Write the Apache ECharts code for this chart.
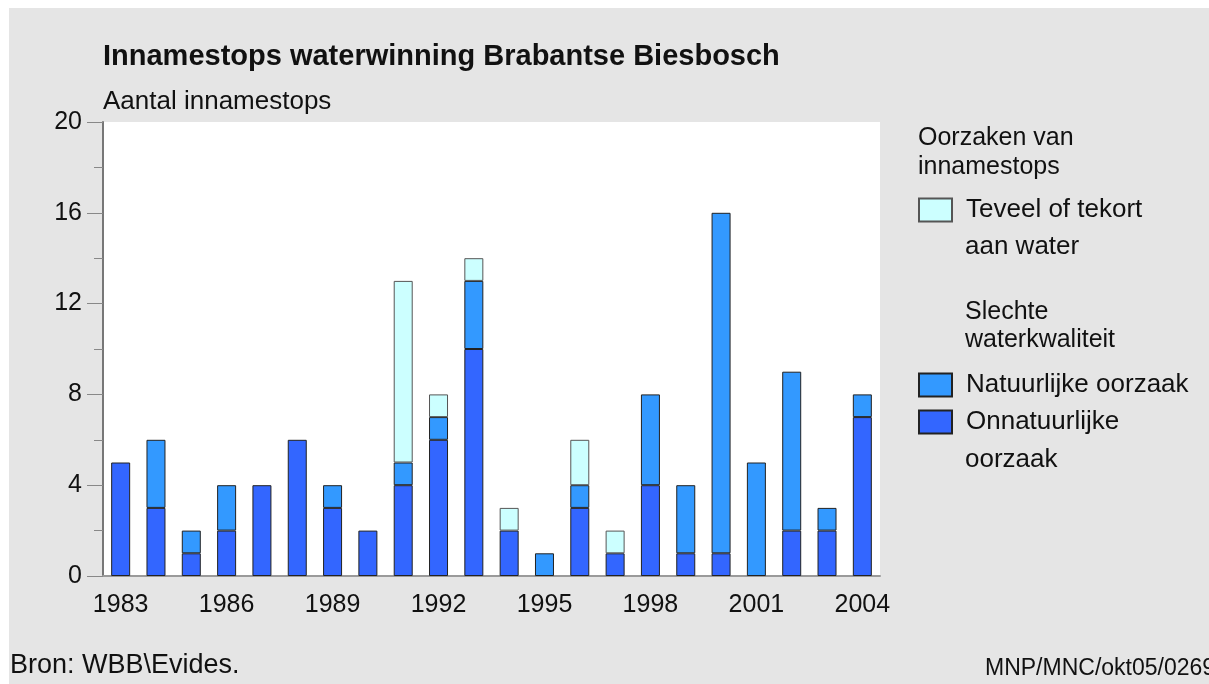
<!DOCTYPE html>
<html>
<head>
<meta charset="utf-8">
<script src="https://cdn.jsdelivr.net/npm/echarts@6/dist/echarts.min.js"></script>
<style>
html,body{margin:0;padding:0;background:#fff;width:1209px;height:684px;overflow:hidden;}
#c{position:absolute;left:9px;top:8px;width:1200px;height:676px;}
</style>
</head>
<body>
<div id="c"></div>
<script>
const years = ['1983','1984','1985','1986','1987','1988','1989','1990','1991','1992','1993','1994','1995','1996','1997','1998','1999','2000','2001','2002','2003','2004'];
const onnatuurlijk = [5,3,1,2,4,6,3,2,4,6,10,2,0,3,1,4,1,1,0,2,2,7];
const natuurlijk   = [0,3,1,2,0,0,1,0,1,1,3,0,1,1,0,4,3,15,5,7,1,1];
const teveelTekort = [0,0,0,0,0,0,0,0,8,1,1,1,0,2,1,0,0,0,0,0,0,0];
const yTicks = [0,4,8,12,16,20];

const FONT = '"Liberation Sans", Arial, sans-serif';
const nz = a => a.map(v => v === 0 ? null : v);

const chart = echarts.init(document.getElementById('c'), null, {renderer:'canvas'});
const barBase = {type:'bar', stack:'s', barWidth:19, animation:false};

const legendBase = {orient:'vertical', padding:0, itemWidth:33, itemHeight:23, selectedMode:false, icon:'rect',
  textStyle:{fontFamily:FONT, fontSize:26, color:'#111', lineHeight:23, padding:[0,0,0,9]}};

chart.setOption({
  backgroundColor:'#e5e5e5',
  animation:false,
  grid:{left:94, right:329, top:114, bottom:108, show:true, backgroundColor:'#fff', borderWidth:0},
  xAxis:{type:'category', data:years,
    axisLine:{lineStyle:{color:'#9a9a9a', width:2}},
    axisTick:{show:false},
    axisLabel:{interval:2, margin:17, fontFamily:FONT, fontSize:25, color:'#111'}},
  yAxis:{type:'value', min:yTicks[0], max:yTicks[yTicks.length-1], interval:4,
    axisLine:{show:true, lineStyle:{color:'#777', width:2}},
    axisTick:{show:true, length:16, lineStyle:{color:'#888'}},
    minorTick:{show:true, splitNumber:2, length:9, lineStyle:{color:'#888'}},
    splitLine:{show:false},
    axisLabel:{margin:21, fontFamily:FONT, fontSize:25, color:'#111'}},
  legend:[
    Object.assign({}, legendBase, {left:909, top:189, data:['Teveel of tekort']}),
    Object.assign({}, legendBase, {left:909, top:364, data:['Natuurlijke oorzaak']}),
    Object.assign({}, legendBase, {left:909, top:401, data:['Onnatuurlijke']})
  ],
  series:[
    Object.assign({}, barBase, {name:'Onnatuurlijke', data:nz(onnatuurlijk), itemStyle:{color:'#3366ff', borderColor:'#222', borderWidth:1}}),
    Object.assign({}, barBase, {name:'Natuurlijke oorzaak', data:nz(natuurlijk), itemStyle:{color:'#3399ff', borderColor:'#222', borderWidth:1}}),
    Object.assign({}, barBase, {name:'Teveel of tekort', data:nz(teveelTekort), itemStyle:{color:'#ccffff', borderColor:'#555', borderWidth:1}})
  ],
  graphic:[
    {type:'text', x:94, y:49, style:{text:'Innamestops waterwinning Brabantse Biesbosch', font:'bold 29px '+FONT, fill:'#111', verticalAlign:'middle'}},
    {type:'text', x:94, y:94, style:{text:'Aantal innamestops', font:'26px '+FONT, fill:'#111', verticalAlign:'middle'}},
    {type:'text', x:909, y:116, style:{text:'Oorzaken van\ninnamestops', font:'25px '+FONT, lineHeight:29, fill:'#111', verticalAlign:'top'}},
    {type:'text', x:956, y:239, style:{text:'aan water', font:'26px '+FONT, fill:'#111', verticalAlign:'middle'}},
    {type:'text', x:956, y:290, style:{text:'Slechte\nwaterkwaliteit', font:'25px '+FONT, lineHeight:28, fill:'#111', verticalAlign:'top'}},
    {type:'text', x:956, y:452, style:{text:'oorzaak', font:'26px '+FONT, fill:'#111', verticalAlign:'middle'}},
    {type:'text', x:1, y:658, style:{text:'Bron: WBB\\Evides.', font:'27px '+FONT, fill:'#111', verticalAlign:'middle'}},
    {type:'text', x:976, y:661, style:{text:'MNP/MNC/okt05/0269', font:'23px '+FONT, fill:'#111', verticalAlign:'middle'}}
  ]
});
</script>
</body>
</html>
